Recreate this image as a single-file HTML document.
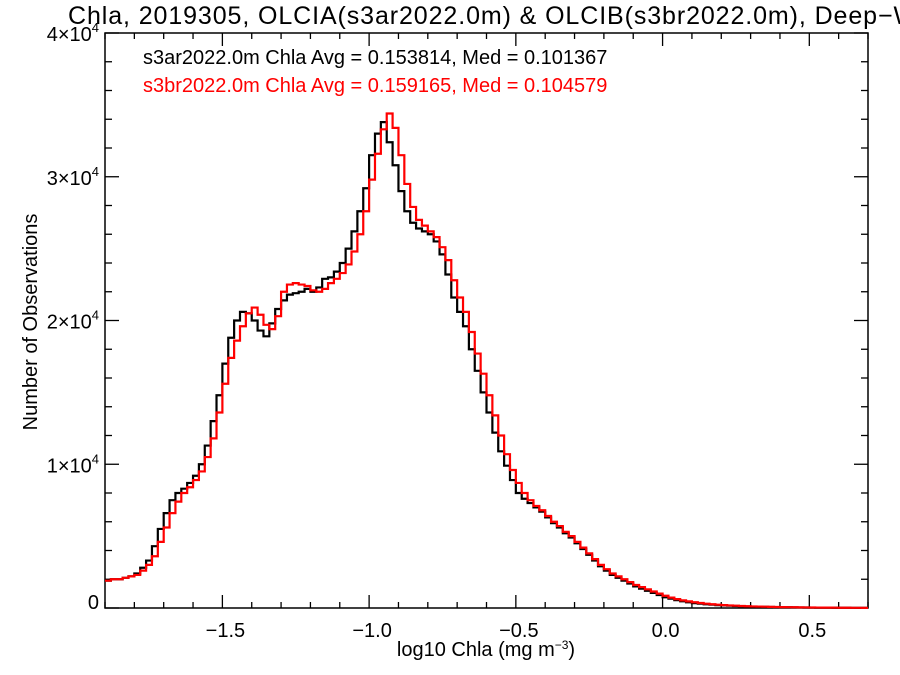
<!DOCTYPE html>
<html><head><meta charset="utf-8"><style>
html,body{margin:0;padding:0;background:#fff;overflow:hidden;}
svg{display:block;font-family:"Liberation Sans",Arial,sans-serif;}
</style></head><body>
<svg id="chart" width="900" height="675" viewBox="0 0 900 675" xmlns="http://www.w3.org/2000/svg">
<text x="68" y="24" font-size="25" letter-spacing="0.9" fill="#000">Chla, 2019305, OLCIA(s3ar2022.0m) &amp; OLCIB(s3br2022.0m), Deep−Water</text>
<text x="143" y="64" font-size="20" fill="#000">s3ar2022.0m Chla Avg = 0.153814, Med = 0.101367</text>
<text x="143" y="92" font-size="20" fill="#ff0000">s3br2022.0m Chla Avg = 0.159165, Med = 0.104579</text>
<text transform="translate(37,322) rotate(-90)" text-anchor="middle" font-size="20">Number of Observations</text>
<text x="486" y="656" text-anchor="middle" font-size="20">log10 Chla (mg m<tspan baseline-shift="super" font-size="12">−3</tspan>)</text>
<g id="axes"></g>
<g id="series"></g>
</svg>
<script>
const binStart = -1.9;
const binWidth = 0.02;
const xTicks = [-1.5, -1.0, -0.5, 0.0, 0.5];
const xTickLabels = ["−1.5", "−1.0", "−0.5", "0.0", "0.5"];
const yTicks = [0, 10000, 20000, 30000, 40000];
const yTickMant = ["0", "1", "2", "3", "4"];
const s3aCounts = [1.9,2.0,2.0,2.1,2.2,2.4,2.8,3.3,4.3,5.5,
6.6,7.5,8.0,8.3,8.7,9.2,10.0,11.3,13.0,14.8,
17.0,18.8,20.0,20.6,20.5,20.0,19.3,18.9,19.8,20.8,
21.4,21.8,21.9,22.0,22.2,22.0,22.3,22.9,23.0,23.4,
24.0,25.0,26.2,27.6,29.2,
31.5,33.0,33.8,32.4,30.8,29.0,27.6,26.8,26.4,26.2,
26.0,25.5,24.6,23.2,21.6,20.6,19.6,18.0,16.5,15.0,
13.6,12.2,10.9,9.9,8.9,8.0,7.6,7.3,7.0,6.7,
6.3,5.9,5.6,5.2,4.9,4.5,4.1,3.7,3.3,2.9,
2.6,2.3,2.1,1.9,1.7,1.5,1.35,1.2,1.05,0.9,
0.75,0.65,0.55,0.47,0.4,0.34,0.3,0.26,0.23,0.2,
0.18,0.16,0.14,0.12,0.11,0.1,0.09,0.08,0.07,0.06,
0.055,0.05,0.045,0.04,0.035,0.03,0.028,0.025,0.022,0.02,
0.018,0.016,0.014,0.012,0.01];
const s3bCounts = [1.9,2.0,2.0,2.1,2.2,2.3,2.6,3.0,3.6,4.6,
5.6,6.6,7.4,8.0,8.4,8.9,9.5,10.5,11.8,13.6,
15.6,17.4,18.6,19.6,20.5,20.9,20.4,19.7,19.4,20.3,
22.0,22.5,22.6,22.5,22.4,22.1,22.0,22.2,22.6,22.9,
23.3,23.9,24.8,26.0,27.6,
29.8,31.6,33.3,34.4,33.4,31.5,29.5,27.9,27.0,26.6,
26.2,25.8,25.1,24.2,22.8,21.6,20.6,19.2,17.7,16.3,
14.8,13.4,12.0,10.7,9.6,8.7,8.0,7.5,7.1,6.8,
6.4,6.0,5.7,5.3,5.0,4.6,4.2,3.8,3.4,3.0,
2.7,2.4,2.2,2.0,1.8,1.6,1.45,1.3,1.15,1.0,
0.85,0.72,0.62,0.53,0.46,0.4,0.35,0.3,0.26,0.23,
0.2,0.18,0.16,0.14,0.12,0.11,0.1,0.09,0.08,0.07,
0.06,0.055,0.05,0.045,0.04,0.035,0.03,0.027,0.024,0.021,
0.018,0.016,0.014,0.012,0.01];

const NS = "http://www.w3.org/2000/svg";
const L = 105, R = 868, T = 33, B = 608;
const xMin = -1.9, xMax = 0.7, yMin = 0, yMax = 40000;
function xs(v){ return L + (v - xMin) / (xMax - xMin) * (R - L); }
function ys(v){ return B - (v - yMin) / (yMax - yMin) * (B - T); }
function mk(tag, attrs, parent){ const e = document.createElementNS(NS, tag); for (const k in attrs) e.setAttribute(k, attrs[k]); parent.appendChild(e); return e; }

const axes = document.getElementById("axes");
const frame = mk("rect", {x:L, y:T, width:R-L, height:B-T, fill:"none", stroke:"#000", "stroke-width":1.5}, axes);



for (let i = -19; i <= 7; i++) {
  const v = i / 10, x = xs(v);
  const major = (i % 5 === 0);
  const len = major ? 13 : 6;
  mk("line", {x1:x, y1:B, x2:x, y2:B-len, stroke:"#000", "stroke-width":1.3}, axes);
  mk("line", {x1:x, y1:T, x2:x, y2:T+len, stroke:"#000", "stroke-width":1.3}, axes);
}
xTicks.forEach((v, i) => {
  const t = mk("text", {x:xs(v)+3, y:637, "text-anchor":"middle", "font-size":20}, axes);
  t.textContent = xTickLabels[i];
  
  
});
for (let v = 0; v <= 40000; v += 2000) {
  const y = ys(v), major = (v % 10000 === 0), len = major ? 14 : 7;
  mk("line", {x1:L, y1:y, x2:L+len, y2:y, stroke:"#000", "stroke-width":1.3}, axes);
  mk("line", {x1:R, y1:y, x2:R-len, y2:y, stroke:"#000", "stroke-width":1.3}, axes);
}
yTicks.forEach((v, i) => {
  const t = mk("text", {x:99, y:ys(v)+8, "text-anchor":"end", "font-size":20}, axes);
  
  
  if (v === 0) { t.textContent = "0"; t.setAttribute("y", ys(v)+1); }
  else {
    t.textContent = yTickMant[i] + "×10";
    const s = document.createElementNS(NS, "tspan");
    s.setAttribute("font-size", "13"); s.setAttribute("dy", "-9");
    s.textContent = "4"; t.appendChild(s);
  }
});

function stepPath(arr){
  let d = "";
  arr.forEach((c, i) => {
    const x0 = xs(binStart + i*binWidth), x1 = xs(binStart + (i+1)*binWidth), y = ys(c*1000);
    d += (i === 0 ? "M" + x0 + "," + y : "L" + x0 + "," + y) + "L" + x1 + "," + y;
  });
  return d;
}
const g = document.getElementById("series");
const pa = mk("path", {d:stepPath(s3aCounts), fill:"none", stroke:"#000", "stroke-width":2.2}, g);


const pb = mk("path", {d:stepPath(s3bCounts), fill:"none", stroke:"#ff0000", "stroke-width":2.2}, g);


</script>
</body></html>
